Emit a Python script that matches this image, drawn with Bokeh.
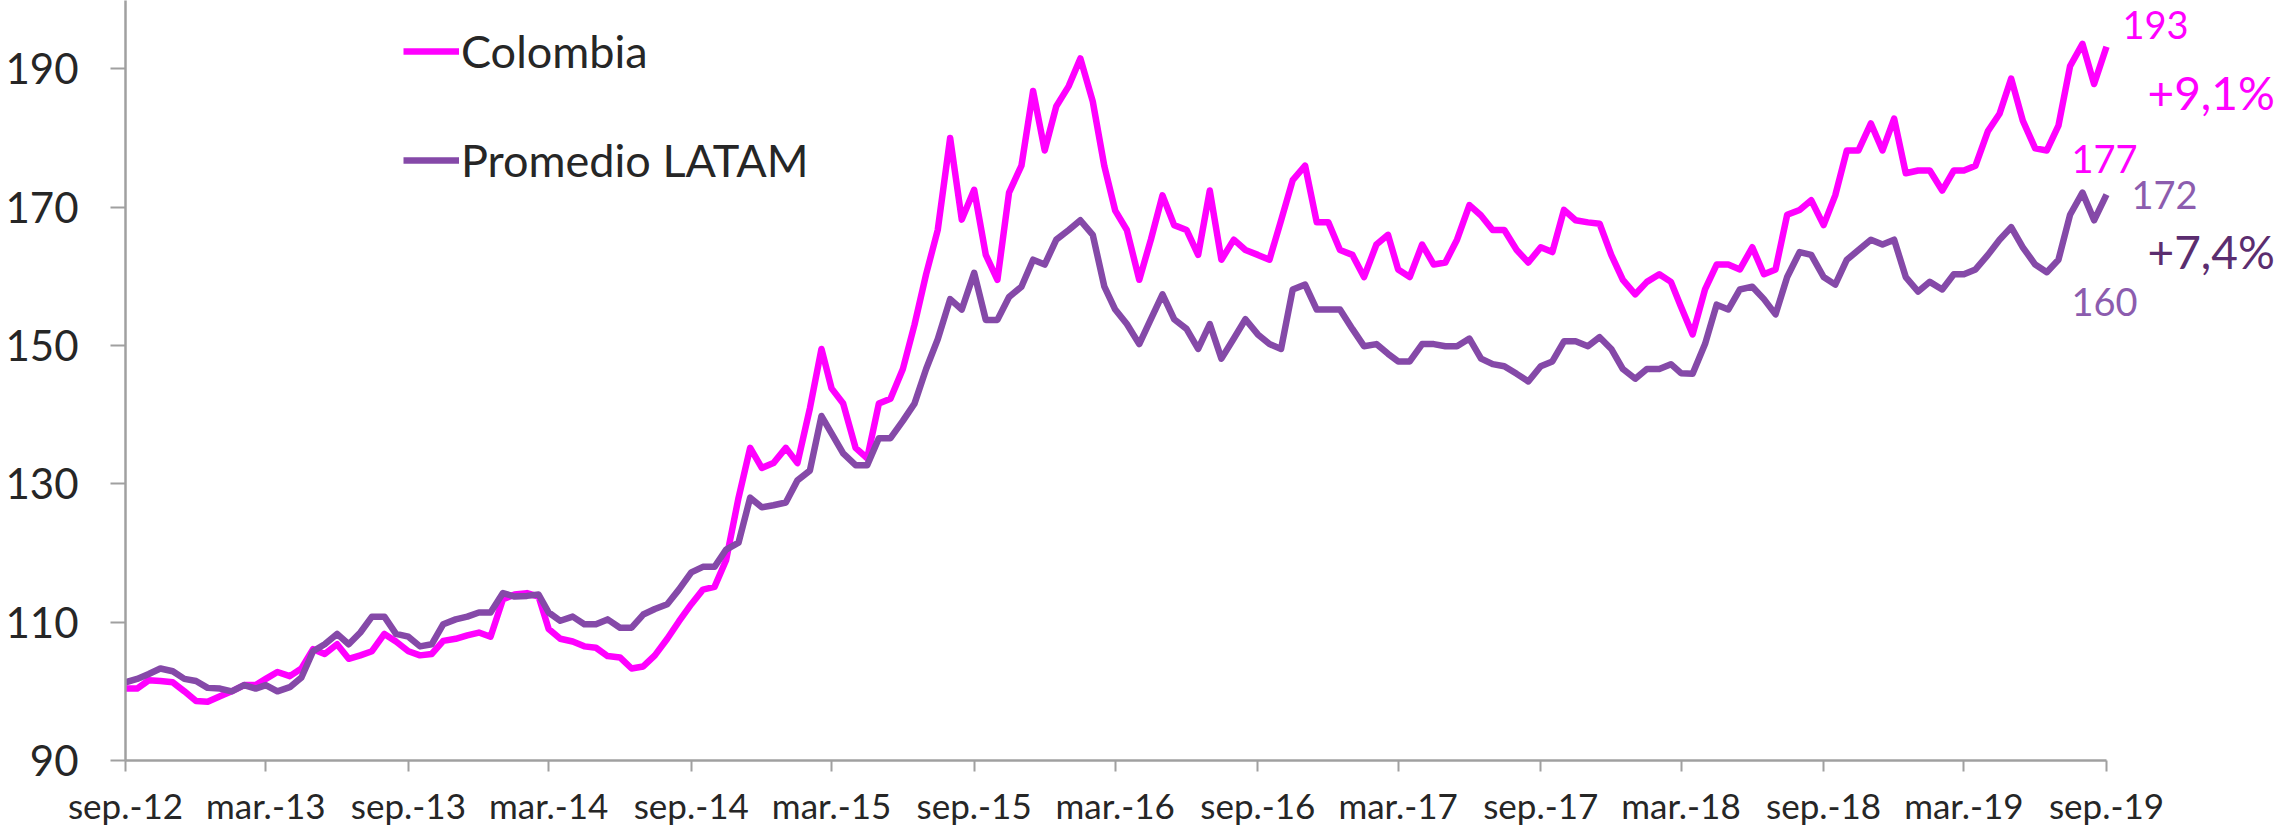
import pandas as pd
from bokeh.plotting import figure
from bokeh.models import Range1d, FixedTicker, Legend, LegendItem, Label
from bokeh.embed import file_html
from bokeh.resources import INLINE

# ---- data (index; half-month steps from sep-2012) ----
colombia = [
    100.4, 100.4, 101.6, 101.5, 101.3, 100.0, 98.6, 98.5, 99.3, 100.0, 100.9, 100.9,
    101.8, 102.8, 102.2, 103.3, 106.1, 105.4, 106.8, 104.7, 105.2, 105.8, 108.3, 107.2,
    105.8, 105.2, 105.4, 107.3, 107.6, 108.1, 108.5, 107.9, 113.3, 114.0, 114.2, 113.7,
    109.0, 107.6, 107.2, 106.5, 106.3, 105.1, 104.9, 103.3, 103.6, 105.2, 107.6, 110.1,
    112.6, 114.7, 115.1, 119.0, 128.0, 135.2, 132.3, 133.0, 135.2, 133.0, 140.9, 149.5,
    143.8, 141.6, 135.2, 133.7, 141.6, 142.3, 146.6, 153.0, 160.3, 166.7, 180.0, 168.2,
    172.5, 163.1, 159.5, 172.1, 176.0, 186.8, 178.2, 184.6, 187.5, 191.5, 185.3, 175.9,
    169.5, 166.7, 159.5, 165.3, 171.7, 167.4, 166.7, 163.1, 172.4, 162.4, 165.3, 163.8,
    163.1, 162.4, 168.1, 173.9, 176.0, 167.8, 167.8, 163.8, 163.1, 159.9, 164.6, 166.0,
    161.0, 159.9, 164.6, 161.7, 162.0, 165.3, 170.3, 168.8, 166.7, 166.7, 163.8, 162.0,
    164.2, 163.5, 169.6, 168.1, 167.8, 167.6, 163.1, 159.5, 157.4, 159.2, 160.3, 159.2,
    155.6, 151.6, 158.1, 161.7, 161.7, 161.0, 164.2, 160.3, 161.0, 168.9, 169.6, 171.0,
    167.4, 171.7, 178.2, 178.2, 182.1, 178.2, 182.8, 174.9, 175.3, 175.3, 172.4, 175.3,
    175.3, 176.0, 181.0, 183.5, 188.6, 182.5, 178.5, 178.2, 181.8, 190.4, 193.6, 187.8,
    193.2,
]
latam = [
    101.3, 101.8, 102.5, 103.3, 102.9, 101.8, 101.5, 100.5, 100.4, 100.0, 100.9, 100.4,
    100.9, 100.0, 100.6, 102.0, 105.8, 106.8, 108.3, 106.8, 108.5, 110.8, 110.8, 108.3,
    107.9, 106.5, 106.8, 109.7, 110.4, 110.8, 111.4, 111.4, 114.2, 113.7, 113.8, 114.0,
    111.4, 110.2, 110.8, 109.7, 109.7, 110.4, 109.2, 109.2, 111.1, 111.9, 112.6, 114.7,
    117.2, 118.0, 118.0, 120.5, 121.5, 128.0, 126.6, 126.9, 127.3, 130.5, 131.9, 139.8,
    137.3, 134.4, 132.7, 132.7, 136.6, 136.6, 139.1, 141.6, 146.6, 150.9, 156.7, 155.2,
    160.5, 153.7, 153.7, 157.0, 158.5, 162.4, 161.7, 165.3, 166.7, 168.1, 166.0, 158.5,
    155.2, 153.1, 150.2, 153.8, 157.4, 153.8, 152.4, 149.5, 153.1, 148.1, 151.0, 153.8,
    151.6, 150.2, 149.5, 158.1, 158.8, 155.2, 155.2, 155.2, 152.4, 149.9, 150.2, 148.8,
    147.7, 147.7, 150.2, 150.2, 149.9, 149.9, 151.0, 148.1, 147.3, 147.0, 145.9, 144.8,
    147.0, 147.7, 150.6, 150.6, 149.9, 151.2, 149.5, 146.6, 145.2, 146.6, 146.6, 147.3,
    146.0, 145.9, 150.2, 155.9, 155.2, 158.1, 158.5, 156.7, 154.5, 159.9, 163.5, 163.1,
    159.9, 158.8, 162.4, 163.8, 165.3, 164.6, 165.3, 159.9, 157.8, 159.2, 158.1, 160.3,
    160.3, 161.0, 163.1, 165.3, 167.1, 164.2, 161.7, 160.6, 162.4, 168.9, 172.1, 168.1,
    171.8,
]
series_names = ["Colombia", "Promedio LATAM"]
tick_dates = ["2012-09-01", "2013-03-01", "2013-09-01", "2014-03-01", "2014-09-01",
              "2015-03-01", "2015-09-01", "2016-03-01", "2016-09-01", "2017-03-01",
              "2017-09-01", "2018-03-01", "2018-09-01", "2019-03-01", "2019-09-01"]
tick_labels = ["sep.-12", "mar.-13", "sep.-13", "mar.-14", "sep.-14", "mar.-15", "sep.-15",
               "mar.-16", "sep.-16", "mar.-17", "sep.-17", "mar.-18", "sep.-18", "mar.-19",
               "sep.-19"]
y_ticks = [90, 110, 130, 150, 170, 190]
note_col_hi, note_col_chg, note_col_lo = "193", "+9,1%", "177"
note_lat_hi, note_lat_chg, note_lat_lo = "172", "+7,4%", "160"
col_lo_value, lat_lo_value = 177, 160

# half-month date grid (1st and 16th), sep-2012 .. sep-2019
dates = []
for k in range(len(colombia)):
    mon = pd.Timestamp("2012-09-01") + pd.DateOffset(months=k // 2)
    dates.append(mon + pd.Timedelta(days=15 * (k % 2)))

def ms(d):
    return pd.Timestamp(d).value / 1e6

MAG = "#FF00FF"
PUR = "#8549A8"
PUR_TXT = "#8C5CAE"
PUR_DARK = "#5B2D6F"
TXT = "#262626"
AX = "#A0A0A0"
FONT = "Lato"

# layout: frame spans x 125..2279, the time axis ends at x 2106
W, H = 2279, 828
left_b = 125
frame_w = W - left_b
axis_px = 1981.0
px_per_unit = 6.935
frame_h = 762

x0, x1 = ms(tick_dates[0]), ms(tick_dates[-1])
x_end = x0 + (x1 - x0) * frame_w / axis_px

p = figure(width=W, height=H, x_axis_type="datetime",
           output_backend="svg", toolbar_location=None,
           x_range=Range1d(x0, x_end),
           y_range=Range1d(90, 90 + frame_h / px_per_unit),
           min_border_left=left_b, min_border_right=0, min_border_top=0,
           min_border_bottom=H - frame_h)
p.outline_line_color = None
p.grid.visible = False
p.background_fill_color = "white"
p.border_fill_color = "white"

r1 = p.line(dates, colombia, line_color=MAG, line_width=6.5, line_join="round")
r2 = p.line(dates, latam, line_color=PUR, line_width=6.5, line_join="round")

# axes
xa = p.xaxis[0]
xa.bounds = (x0, x1)
xa.ticker = FixedTicker(ticks=[ms(d) for d in tick_dates])
xa.major_label_overrides = {ms(d): lab for d, lab in zip(tick_dates, tick_labels)}
xa.minor_tick_line_color = None
xa.major_tick_in = 0
xa.major_tick_out = 11
xa.major_label_standoff = 12
xa.major_label_text_font = FONT
xa.major_label_text_font_size = "35px"
xa.major_label_text_color = TXT
xa.axis_line_color = AX
xa.axis_line_width = 2.5
xa.major_tick_line_color = AX
xa.major_tick_line_width = 2

ya = p.yaxis[0]
ya.ticker = FixedTicker(ticks=y_ticks)
ya.minor_tick_line_color = None
ya.major_tick_in = 0
ya.major_tick_out = 15
ya.major_label_standoff = 32
ya.major_label_text_font = FONT
ya.major_label_text_font_size = "42px"
ya.major_label_text_color = TXT
ya.axis_line_color = AX
ya.axis_line_width = 2.5
ya.major_tick_line_color = AX
ya.major_tick_line_width = 2

legend = Legend(items=[LegendItem(label=series_names[0], renderers=[r1]),
                       LegendItem(label=series_names[1], renderers=[r2])],
                location=(278, 573), orientation="vertical", padding=0, margin=0,
                spacing=55, glyph_width=56, glyph_height=20, label_height=50,
                label_standoff=2, label_text_font=FONT, label_text_font_size="45px",
                label_text_color=TXT, border_line_color=None, background_fill_alpha=0)
p.add_layout(legend)

end_x = ms(dates[-1])
def note(text, y, dx, dy, color, size):
    p.add_layout(Label(x=end_x, y=y, x_offset=dx, y_offset=dy, text=text,
                       text_font=FONT, text_font_size=size, text_color=color,
                       text_align="left", text_baseline="middle"))

note(note_col_hi, colombia[-1], 16, 22, MAG, "38px")
note(note_col_chg, colombia[-1], 41, -46, MAG, "46px")
note(note_col_lo, col_lo_value, -35, 0, MAG, "38px")
note(note_lat_hi, latam[-1], 25, 0, PUR_TXT, "38px")
note(note_lat_chg, latam[-1], 41, -57, PUR_DARK, "46px")
note(note_lat_lo, lat_lo_value, -35, -26, PUR_TXT, "38px")

open("out.html", "w").write(file_html(p, INLINE))
